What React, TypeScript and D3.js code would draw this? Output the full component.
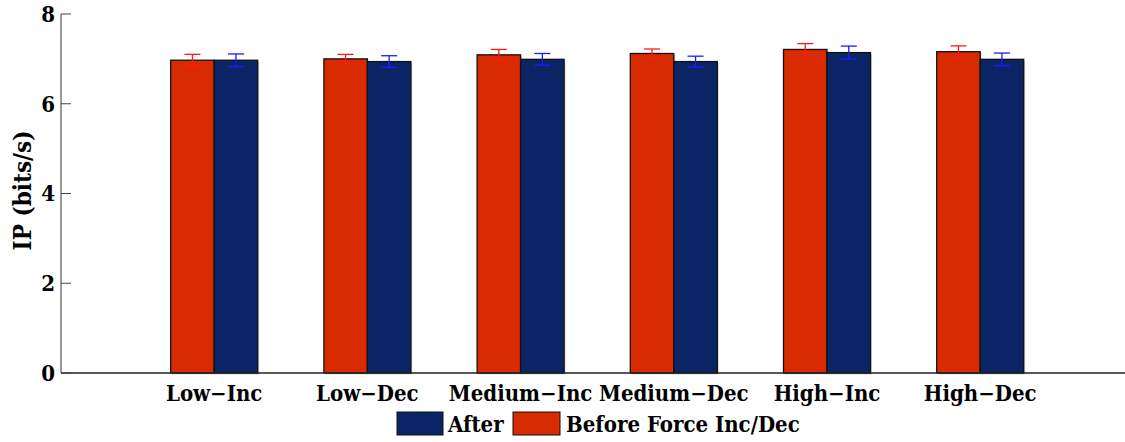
import React from "react";
import * as d3 from "d3";

const categories = ["Low\u2212Inc", "Low\u2212Dec", "Medium\u2212Inc", "Medium\u2212Dec", "High\u2212Inc", "High\u2212Dec"];
const beforeValues = [6.97, 7.0, 7.09, 7.12, 7.21, 7.16];
const beforeErrors = [0.13, 0.1, 0.12, 0.1, 0.13, 0.13];
const afterValues = [6.97, 6.94, 6.99, 6.94, 7.14, 6.99];
const afterErrors = [0.14, 0.13, 0.13, 0.12, 0.145, 0.14];
const yTicks = [0, 2, 4, 6, 8];
const seriesNames = ["After", "Before Force Inc/Dec"];

const W = 1125;
const H = 442;
const FONT = "DejaVu Serif Condensed, DejaVu Serif, serif";
const RED = "#d92b02";
const BLUE = "#0b2465";
const textStyle: React.CSSProperties = { fontFamily: FONT, fontWeight: 700, fontStretch: "condensed" };

export default function App() {
  const x = d3.scaleLinear().domain([0, 7]).range([61, 61 + 7 * 153.2]);
  const y = d3.scaleLinear().domain([0, 8]).range([373, 14]);
  const barW = 43.5;
  const capW = 16;

  const series = [
    { vals: beforeValues, errs: beforeErrors, fill: RED, err: "#ff1a1a", off: -barW },
    { vals: afterValues, errs: afterErrors, fill: BLUE, err: "#1a1aff", off: 0 },
  ];

  return (
    <svg width={W} height={H} style={{ position: "absolute", left: 0, top: 0 }}>
      <rect width={W} height={H} fill="#fff" />
      {series.map((s, si) =>
        s.vals.map((v, i) => {
          const cx = x(i + 1);
          const x0 = cx + s.off;
          return (
            <g key={`b${si}-${i}`}>
              <rect x={x0 + 1.5} y={y(v) + 1.5} width={barW} height={y(0) - y(v)} fill="#bbb" opacity={0.6} />
              <rect x={x0} y={y(v)} width={barW} height={y(0) - y(v)} fill={s.fill} stroke="#111" strokeWidth={1.3} />
            </g>
          );
        })
      )}
      {series.map((s, si) =>
        s.vals.map((v, i) => {
          const cx = x(i + 1) + s.off + barW / 2;
          const top = y(v + s.errs[i]);
          const bot = y(v - s.errs[i]);
          return (
            <g key={`e${si}-${i}`} stroke={s.err} strokeWidth={1.3}>
              <line x1={cx} x2={cx} y1={top} y2={bot} />
              <line x1={cx - capW / 2} x2={cx + capW / 2} y1={top} y2={top} />
              <line x1={cx - capW / 2} x2={cx + capW / 2} y1={bot} y2={bot} />
            </g>
          );
        })
      )}
      <line x1={61} x2={61} y1={y(8)} y2={y(0)} stroke="#333" strokeWidth={1} />
      <line x1={61} x2={W} y1={y(0)} y2={y(0)} stroke="#222" strokeWidth={1.5} />
      {yTicks.map((t) => (
        <g key={`t${t}`}>
          <line x1={61} x2={71} y1={y(t)} y2={y(t)} stroke="#444" strokeWidth={1} />
          <text x={55} y={y(t)} dy="0.36em" textAnchor="end" fontSize={22} style={textStyle}>
            {t}
          </text>
        </g>
      ))}
      {categories.map((c, i) => (
        <text key={c} x={x(i + 1)} y={401} textAnchor="middle" fontSize={22} style={textStyle}>
          {c}
        </text>
      ))}
      <text
        transform={`translate(31, ${y(4) - 3}) rotate(-90)`}
        textAnchor="middle"
        fontSize={24}
        style={textStyle}
      >
        IP (bits/s)
      </text>
      <rect x={397} y={412} width={46} height={23} fill={BLUE} stroke="#111" strokeWidth={1} />
      <text x={448} y={432} fontSize={22} style={textStyle}>{seriesNames[0]}</text>
      <rect x={513} y={412} width={47} height={23} fill={RED} stroke="#111" strokeWidth={1} />
      <text x={566} y={432} fontSize={22} style={textStyle}>{seriesNames[1]}</text>
    </svg>
  );
}
